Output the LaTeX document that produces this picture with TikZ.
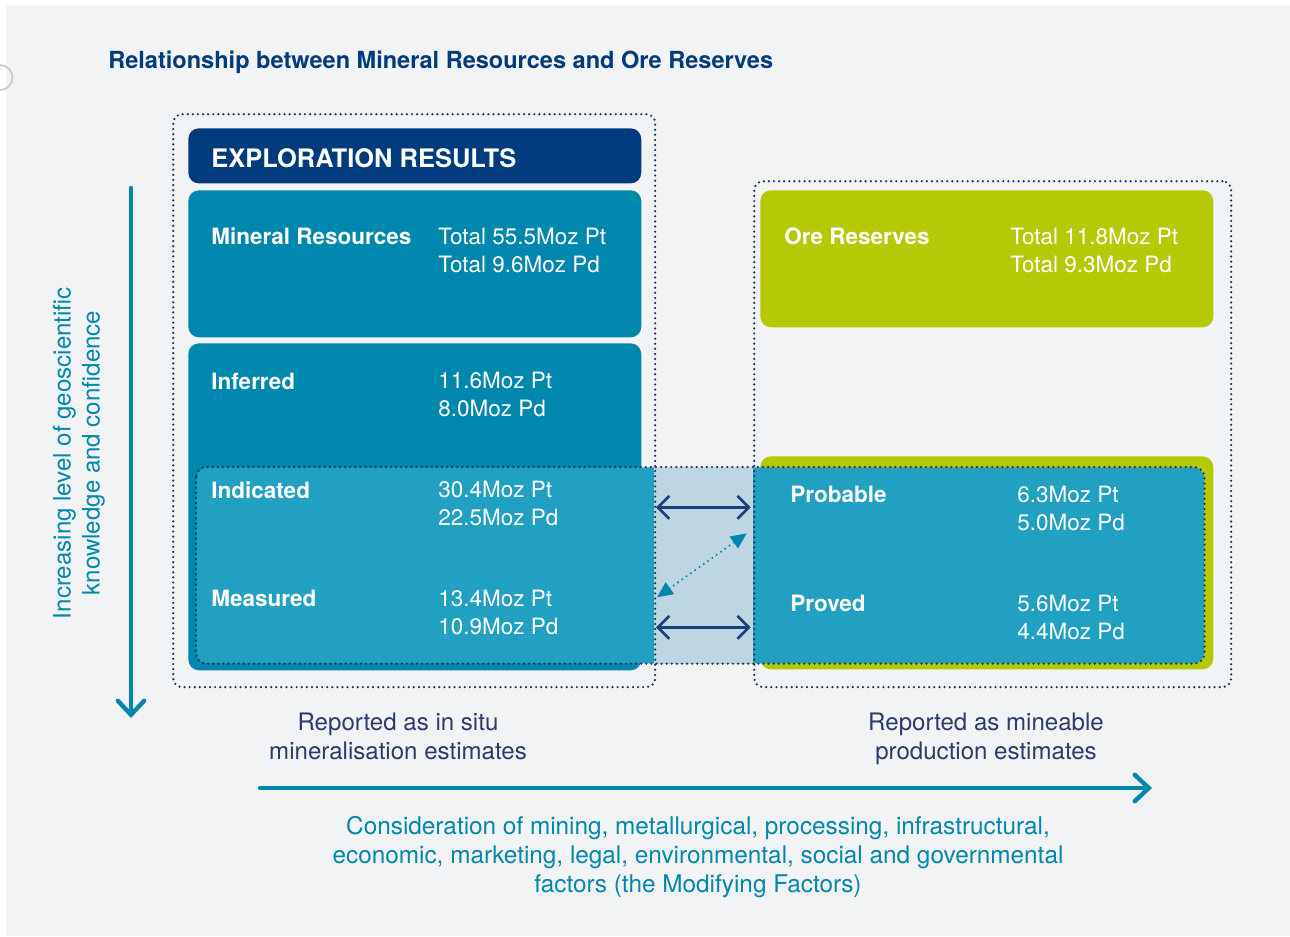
\documentclass[tikz,border=0pt]{standalone}
\usepackage{fontspec}
\setmainfont{TeX Gyre Heros}
\usetikzlibrary{arrows.meta,positioning}
\definecolor{cnavy}{HTML}{003C7D}
\definecolor{cteal}{HTML}{0087AD}
\definecolor{clite}{HTML}{22A0C1}
\definecolor{cband}{HTML}{BDD6E2}
\definecolor{cgreen}{HTML}{B5C906}
\definecolor{cdot}{HTML}{1D3557}
\definecolor{ctxt}{HTML}{2C3A6E}
\definecolor{cbg}{HTML}{F2F3F5}
\definecolor{carr}{HTML}{1A3F7B}
\tikzset{
  blk/.style={anchor=north west, inner sep=0pt, rounded corners=6pt, minimum width=9.06cm},
  frm/.style={draw=cdot, line width=1.4pt, dash pattern=on 0pt off 2.9pt, line cap=round, rounded corners=5pt},
  lbl/.style={anchor=base west, inner sep=0pt, text=white, font=\fontsize{12.8}{15.9}\selectfont\bfseries},
  val/.style={anchor=base west, inner sep=0pt, text=white, align=left, font=\fontsize{12.8}{15.9}\selectfont},
  note/.style={inner sep=0pt, align=center, font=\fontsize{13.7}{16.5}\selectfont},
  bigarr/.style={-{Straight Barb[length=8pt, width=15pt, line cap=round]}, cteal, line width=2.5pt, line cap=round},
  dblarr/.style={{Straight Barb[length=6.5pt, width=13pt]}-{Straight Barb[length=6.5pt, width=13pt]}, carr, line width=1.5pt},
}
\begin{document}
\begin{tikzpicture}[x=0.02cm, y=-0.02cm, >=Stealth]
\useasboundingbox (0,0) rectangle (1290,936);
\fill[cbg] (6,5) rectangle (1290,936);
\draw[black!22, line width=0.9pt] (0,90) arc[start angle=90, end angle=-90, radius=12.5];
\node[anchor=base west, inner sep=0pt, text=cnavy, font=\fontsize{13.4}{16}\selectfont\bfseries] (title) at (108,69) {Relationship between Mineral Resources and Ore Reserves};
% resources side
\node[blk, fill=cnavy, minimum height=1.10cm] (expl) at (188,128) {};
\node[blk, fill=cteal, minimum height=2.94cm] (mres) at (188,190) {};
\node[blk, fill=cteal, minimum height=6.54cm] (inf) at (188,343) {};
% reserves side
\node[blk, fill=cgreen, minimum height=2.74cm] (ore) at (760,190) {};
\node[blk, fill=cgreen, minimum height=4.26cm] (resv) at (760,456) {};
% overlap band
\node[blk, fill=clite, minimum width=20.16cm, minimum height=3.92cm] (band) at (196,467) {};
\node[anchor=north west, inner sep=0pt, fill=cband, minimum width=1.98cm, minimum height=3.92cm] (mid) at (654,467) {};
\draw[frm, rounded corners=6pt] (band.north west) rectangle (band.south east);
\node[blk, frm, minimum width=9.64cm, minimum height=11.46cm] (lfrm) at (172,113) {};
\node[blk, frm, minimum width=9.54cm, minimum height=10.12cm] (rfrm) at (753,180) {};
% labels (values sit on their last baseline)
\node[lbl, font=\fontsize{14.5}{17}\selectfont\bfseries] (explt) at (211,167) {EXPLORATION RESULTS};
\node[lbl] (mrest) at (211,244) {Mineral Resources};
\node[val] (mresv) at (438,272) {Total 55.5Moz Pt\\Total 9.6Moz Pd};
\node[lbl] (inft) at (211,389) {Inferred};
\node[val] (infv) at (438,416) {11.6Moz Pt\\8.0Moz Pd};
\node[lbl] (indt) at (211,498) {Indicated};
\node[val] (indv) at (438,525) {30.4Moz Pt\\22.5Moz Pd};
\node[lbl] (meat) at (211,606) {Measured};
\node[val] (meav) at (438,634) {13.4Moz Pt\\10.9Moz Pd};
\node[lbl] (oret) at (784,244) {Ore Reserves};
\node[val] (orev) at (1010,272) {Total 11.8Moz Pt\\Total 9.3Moz Pd};
\node[lbl] (prbt) at (790,502) {Probable};
\node[val] (prbv) at (1017,530) {6.3Moz Pt\\5.0Moz Pd};
\node[lbl] (prvt) at (790,611) {Proved};
\node[val] (prvv) at (1017,639) {5.6Moz Pt\\4.4Moz Pd};
% links across the band
\draw[dblarr] ([shift={(2,-58)}]mid.west) -- ([shift={(-3,-58)}]mid.east);
\draw[dblarr] ([shift={(2,62)}]mid.west) -- ([shift={(-3,62)}]mid.east);
\draw[cteal, line width=1.3pt, dash pattern=on 0pt off 3pt, line cap=round, {Triangle[length=9pt, width=8pt]}-{Triangle[length=9pt, width=8pt]}] ([shift={(3,32)}]mid.west) -- ([shift={(-7,-32)}]mid.east);
% axes
\coordinate (vtop) at (131,188);
\coordinate (vbot) at (131,718);
\draw[bigarr] (vtop) -- (vbot);
\node[note, text=cteal, rotate=90] (conf) at (79,453) {Increasing level of geoscientific\\knowledge and confidence};
\node[note, text=ctxt] (insitu) at (398,736) {Reported as in situ\\mineralisation estimates};
\node[note, text=ctxt] (mineable) at (986,739) {Reported as mineable\\production estimates};
\coordinate (hl) at (260,788);
\coordinate (hr) at (1152,788);
\draw[bigarr] (hl) -- (hr);
\node[note, text=cteal, font=\fontsize{13.85}{16.5}\selectfont] (modf) at (698,857) {Consideration of mining, metallurgical, processing, infrastructural,\\economic, marketing, legal, environmental, social and governmental\\factors (the Modifying Factors)};
\end{tikzpicture}
\end{document}
